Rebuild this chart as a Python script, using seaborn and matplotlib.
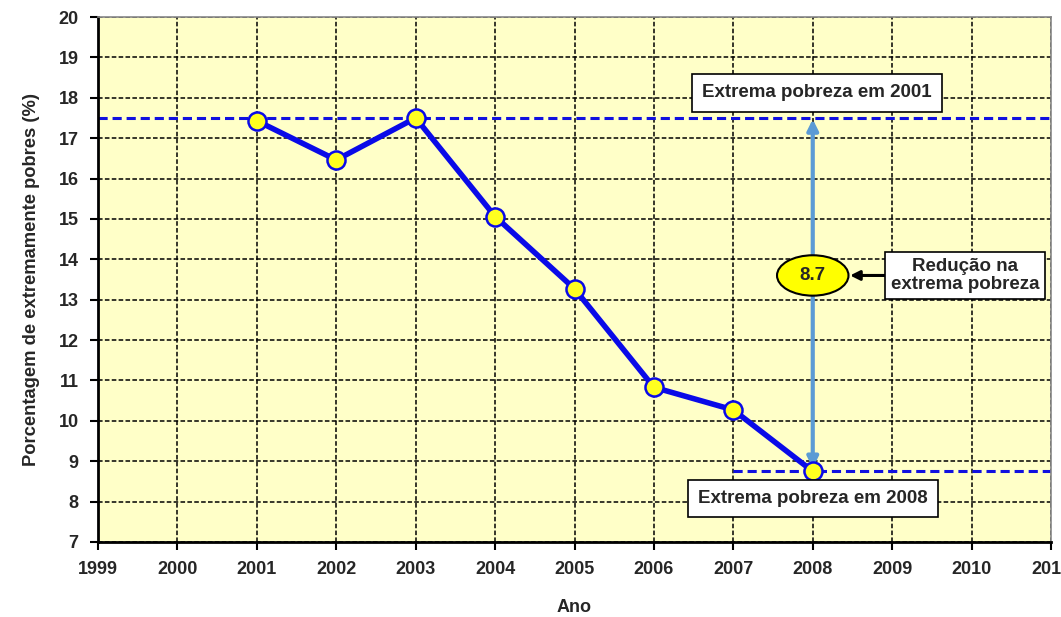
import matplotlib
matplotlib.use("Agg")
import matplotlib.pyplot as plt
from matplotlib.patches import Ellipse
import seaborn as sns
import pandas as pd

years = [2001, 2002, 2003, 2004, 2005, 2006, 2007, 2008]
pct = [17.43, 16.46, 17.5, 15.06, 13.27, 10.83, 10.27, 8.75]
level_2001 = 17.5
level_2008 = 8.75
reduction_label = "8.7"
xticks = list(range(1999, 2012))
yticks = list(range(7, 21))

sns.set_theme(style="white")
plt.rcParams['font.family'] = ['Liberation Sans', 'DejaVu Sans']

fig = plt.figure(figsize=(10.61, 6.17), dpi=100)
ax = fig.add_axes([98/1061, 75/617, (1051-98)/1061, (542-17)/617])
ax.set_facecolor("#FFFFC8")

df = pd.DataFrame({"Ano": years, "pct": pct})
ax.set_xlim(1999, 2011)
ax.set_ylim(7, 20)
ax.set_xticks(xticks)
ax.set_yticks(yticks)
ax.grid(True, color="black", linestyle=(0, (3, 1.5)), linewidth=1.1)
ax.set_axisbelow(True)

ax.axhline(level_2001, color="#1010E0", linestyle=(0, (3, 1.6)), linewidth=2.2, zorder=2)
ax.hlines(level_2008, 2007, 2011, color="#1010E0", linestyle=(0, (3, 1.6)), linewidth=2.2, zorder=2)

sns.lineplot(data=df, x="Ano", y="pct", ax=ax, color="#0A0AE8", linewidth=4,
             marker="o", markersize=13, markerfacecolor="#FFFF20",
             markeredgecolor="#0A0AE8", markeredgewidth=1.8, zorder=5)

# double arrow
ax.annotate("", xy=(2008, level_2001 - 0.03), xytext=(2008, level_2008 + 0.08),
            arrowprops=dict(arrowstyle="<|-|>", color="#5B9BD5", lw=3,
                            mutation_scale=16, shrinkA=0, shrinkB=0), zorder=4)

ell = Ellipse((2008.0, 13.6), 0.9, 1.0, facecolor="#FFFF00", edgecolor="black", lw=1.5, zorder=6)
ax.add_patch(ell)
ax.text(2008.0, 13.6, reduction_label, ha="center", va="center", fontsize=13.5,
        fontweight="bold", zorder=7)

ax.annotate("", xy=(2008.47, 13.6), xytext=(2009.03, 13.6),
            arrowprops=dict(arrowstyle="-|>", color="black", lw=2.2,
                            mutation_scale=14, shrinkA=0, shrinkB=0), zorder=6)
ax.text(2009.92, 13.6, "Redução na\nextrema pobreza", ha="center", va="center",
        fontsize=13.5, fontweight="bold", linespacing=1.1, zorder=7,
        bbox=dict(boxstyle="square,pad=0.3", facecolor="white", edgecolor="black", lw=1.2))

ax.text(2008.05, 18.12, "Extrema pobreza em 2001", ha="center", va="center",
        fontsize=13.5, fontweight="bold", zorder=7,
        bbox=dict(boxstyle="square,pad=0.55", facecolor="white", edgecolor="black", lw=1.2))
ax.text(2008.0, 8.08, "Extrema pobreza em 2008", ha="center", va="center",
        fontsize=13.5, fontweight="bold", zorder=7,
        bbox=dict(boxstyle="square,pad=0.55", facecolor="white", edgecolor="black", lw=1.2))

for s in ["left", "bottom"]:
    ax.spines[s].set_color("black")
    ax.spines[s].set_linewidth(2)
for s in ["top", "right"]:
    ax.spines[s].set_color("#888888")
    ax.spines[s].set_linewidth(1.2)

ax.tick_params(axis="both", which="major", length=6, width=1.5, color="black",
               direction="out", bottom=True, left=True, labelsize=13, pad=8)
for lab in ax.get_xticklabels() + ax.get_yticklabels():
    lab.set_fontweight("bold")

ax.set_xlabel("Ano", fontsize=13, fontweight="bold", labelpad=15)
ax.set_ylabel("Porcentagem de extremamente pobres (%)", fontsize=13.2, fontweight="bold", labelpad=13)

fig.savefig("out.png", dpi=100)
